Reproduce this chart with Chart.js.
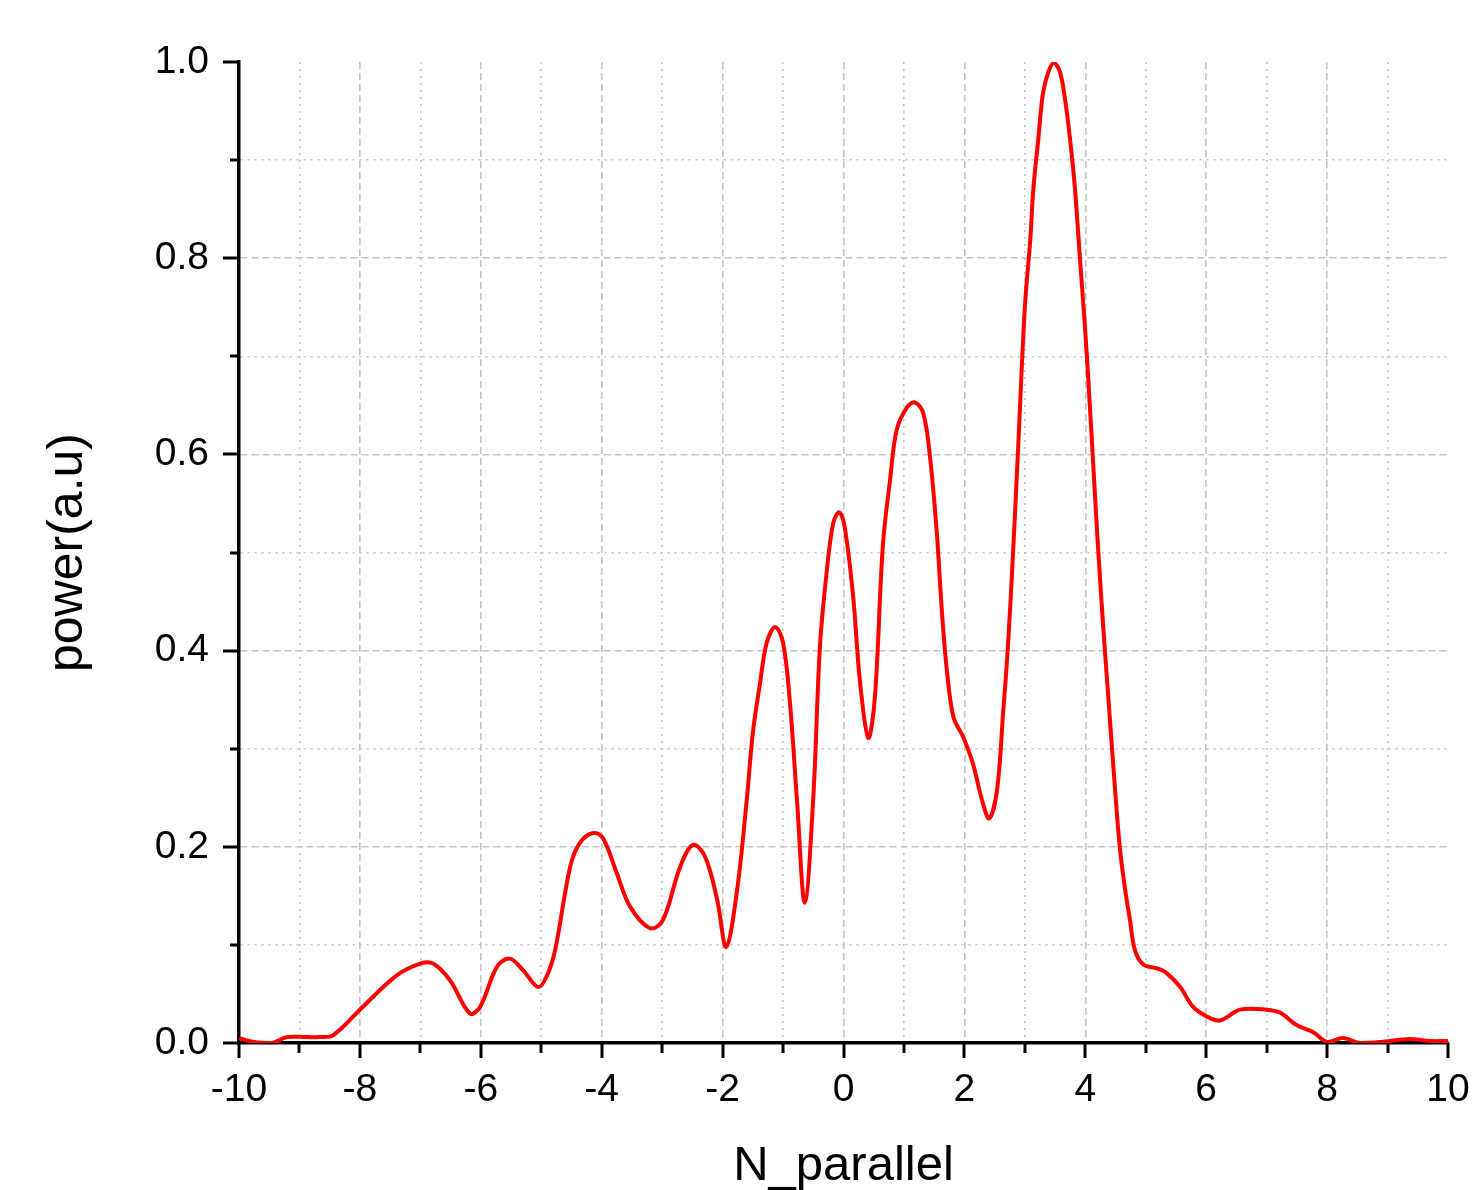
<!DOCTYPE html>
<html>
<head>
<meta charset="utf-8">
<script src="https://cdn.jsdelivr.net/npm/chart.js@4/dist/chart.umd.min.js"></script>
<style>
  html, body { margin: 0; padding: 0; background: #fff; }
  #wrap { width: 1475px; height: 1190px; }
</style>
</head>
<body>
<div id="wrap"><canvas id="c"></canvas></div>
<script>
// N_parallel values
const nPar = [-10, -9.75, -9.45, -9.21, -8.88, -8.66, -8.44, -7.95, -7.39, -7.0, -6.79, -6.51, -6.18, -6.01,
  -5.73, -5.52, -5.30, -5.05, -4.91, -4.77, -4.52, -4.36, -4.14, -3.98, -3.75, -3.53, -3.20, -2.99,
  -2.70, -2.49, -2.29, -2.09, -1.94, -1.76, -1.60, -1.50, -1.38, -1.27, -1.13, -1.00, -0.89, -0.77,
  -0.64, -0.50, -0.39, -0.28, -0.17, -0.07, 0.02, 0.16, 0.27, 0.41, 0.52, 0.65, 0.77, 0.88, 1.05,
  1.18, 1.32, 1.43, 1.54, 1.63, 1.71, 1.82, 1.98, 2.14, 2.29, 2.41, 2.54, 2.64, 2.72, 2.81, 2.89,
  3.00, 3.09, 3.14, 3.22, 3.30, 3.39, 3.48, 3.58, 3.66, 3.75, 3.83, 3.91, 3.99, 4.05, 4.13, 4.21,
  4.30, 4.38, 4.46, 4.57, 4.66, 4.74, 4.82, 4.96, 5.19, 5.35, 5.57, 5.78, 6.01, 6.23, 6.56, 7.00,
  7.22, 7.50, 7.77, 8.00, 8.26, 8.54, 8.87, 9.37, 9.70, 10];
const power = [0.005, 0.001, 0.0, 0.006, 0.006, 0.006, 0.008, 0.037, 0.069, 0.081, 0.081, 0.064, 0.030, 0.037,
  0.078, 0.086, 0.074, 0.057, 0.068, 0.095, 0.180, 0.204, 0.214, 0.209, 0.173, 0.139, 0.117, 0.125,
  0.180, 0.202, 0.190, 0.146, 0.098, 0.156, 0.248, 0.316, 0.367, 0.408, 0.424, 0.408, 0.350, 0.248,
  0.143, 0.250, 0.404, 0.479, 0.530, 0.541, 0.526, 0.455, 0.370, 0.311, 0.353, 0.506, 0.574, 0.625, 0.648,
  0.653, 0.642, 0.598, 0.523, 0.438, 0.380, 0.332, 0.312, 0.285, 0.248, 0.229, 0.258, 0.336, 0.404, 0.506, 0.608,
  0.750, 0.819, 0.870, 0.920, 0.968, 0.990, 0.999, 0.990, 0.964, 0.920, 0.870, 0.801, 0.734, 0.676, 0.591, 0.506,
  0.421, 0.353, 0.285, 0.200, 0.156, 0.125, 0.095, 0.080, 0.076, 0.071, 0.057, 0.037, 0.027, 0.023, 0.034, 0.034,
  0.031, 0.018, 0.011, 0.001, 0.005, 0.0, 0.001, 0.004, 0.002, 0.002];

const xMin = -10, xMax = 10, xStep = 1;
const yMin = 0, yMax = 1, yStep = 0.1;

const FONT = "'Liberation Sans', Arial, sans-serif";
const GRID = '#c4c4c4';

// x: major every 2, y: major every 0.2
const isMajorX = v => Math.round(v) % 2 === 0;
const isMajorY = v => Math.round(v * 10) % 2 === 0;

const axisTicks = {
  id: 'axisTicks',
  afterDraw(chart) {
    const ctx = chart.ctx, a = chart.chartArea;
    const xs = chart.scales.x, ys = chart.scales.y;
    ctx.save();
    ctx.strokeStyle = '#000';
    ctx.lineWidth = 3;
    ctx.beginPath();
    xs.ticks.forEach(t => {
      const px = Math.round(xs.getPixelForValue(t.value));
      const len = isMajorX(t.value) ? 15 : 10;
      ctx.moveTo(px, a.bottom);
      ctx.lineTo(px, a.bottom + len);
    });
    ys.ticks.forEach(t => {
      const py = Math.round(ys.getPixelForValue(t.value));
      const len = isMajorY(t.value) ? 16 : 9;
      ctx.moveTo(a.left, py);
      ctx.lineTo(a.left - len, py);
    });
    ctx.stroke();
    ctx.restore();
  }
};

new Chart(document.getElementById('c'), {
  type: 'line',
  data: {
    datasets: [{
      data: nPar.map((x, i) => ({ x: x, y: power[i] })),
      borderColor: '#ff0000',
      borderWidth: 4,
      pointRadius: 0,
      fill: false,
      tension: 0.35
    }]
  },
  options: {
    responsive: true,
    maintainAspectRatio: false,
    animation: false,
    layout: { padding: { top: 62, right: 27, left: 0, bottom: 0 } },
    plugins: { legend: { display: false }, tooltip: { enabled: false } },
    scales: {
      x: {
        type: 'linear',
        min: xMin, max: xMax,
        afterFit(s) { s.height = 147; s.paddingRight = 0; },
        border: {
          display: true, color: '#000', width: 3.5,
          dash: c => (c.tick && !isMajorX(c.tick.value)) ? [2, 5] : [7, 4]
        },
        grid: {
          drawTicks: false,
          lineWidth: 1.6,
          color: c => (c.tick && (c.tick.value === xMin || c.tick.value === xMax)) ? 'rgba(0,0,0,0)' : GRID
        },
        ticks: {
          stepSize: xStep,
          autoSkip: false,
          maxRotation: 0,
          padding: 24,
          color: '#000',
          font: { family: FONT, size: 39 },
          callback: v => isMajorX(v) ? String(Math.round(v)) : ''
        },
        title: {
          display: true,
          text: 'N_parallel',
          color: '#000',
          font: { family: FONT, size: 49 },
          padding: { top: 0, bottom: -6 }
        }
      },
      y: {
        type: 'linear',
        min: yMin, max: yMax,
        afterFit(s) { s.width = 239; },
        border: {
          display: true, color: '#000', width: 3.5,
          dash: c => (c.tick && !isMajorY(c.tick.value)) ? [2, 5] : [7, 4]
        },
        grid: {
          drawTicks: false,
          lineWidth: 1.6,
          color: c => (c.tick && (Math.abs(c.tick.value - yMin) < 1e-6 || Math.abs(c.tick.value - yMax) < 1e-6)) ? 'rgba(0,0,0,0)' : GRID
        },
        ticks: {
          stepSize: yStep,
          autoSkip: false,
          padding: 30,
          color: '#000',
          font: { family: FONT, size: 39 },
          callback: v => isMajorY(v) ? v.toFixed(1) : ''
        },
        title: {
          display: true,
          text: 'power(a.u)',
          color: '#000',
          font: { family: FONT, size: 50 },
          padding: { top: 38, bottom: 0 }
        }
      }
    }
  },
  plugins: [axisTicks]
});
</script>
</body>
</html>
